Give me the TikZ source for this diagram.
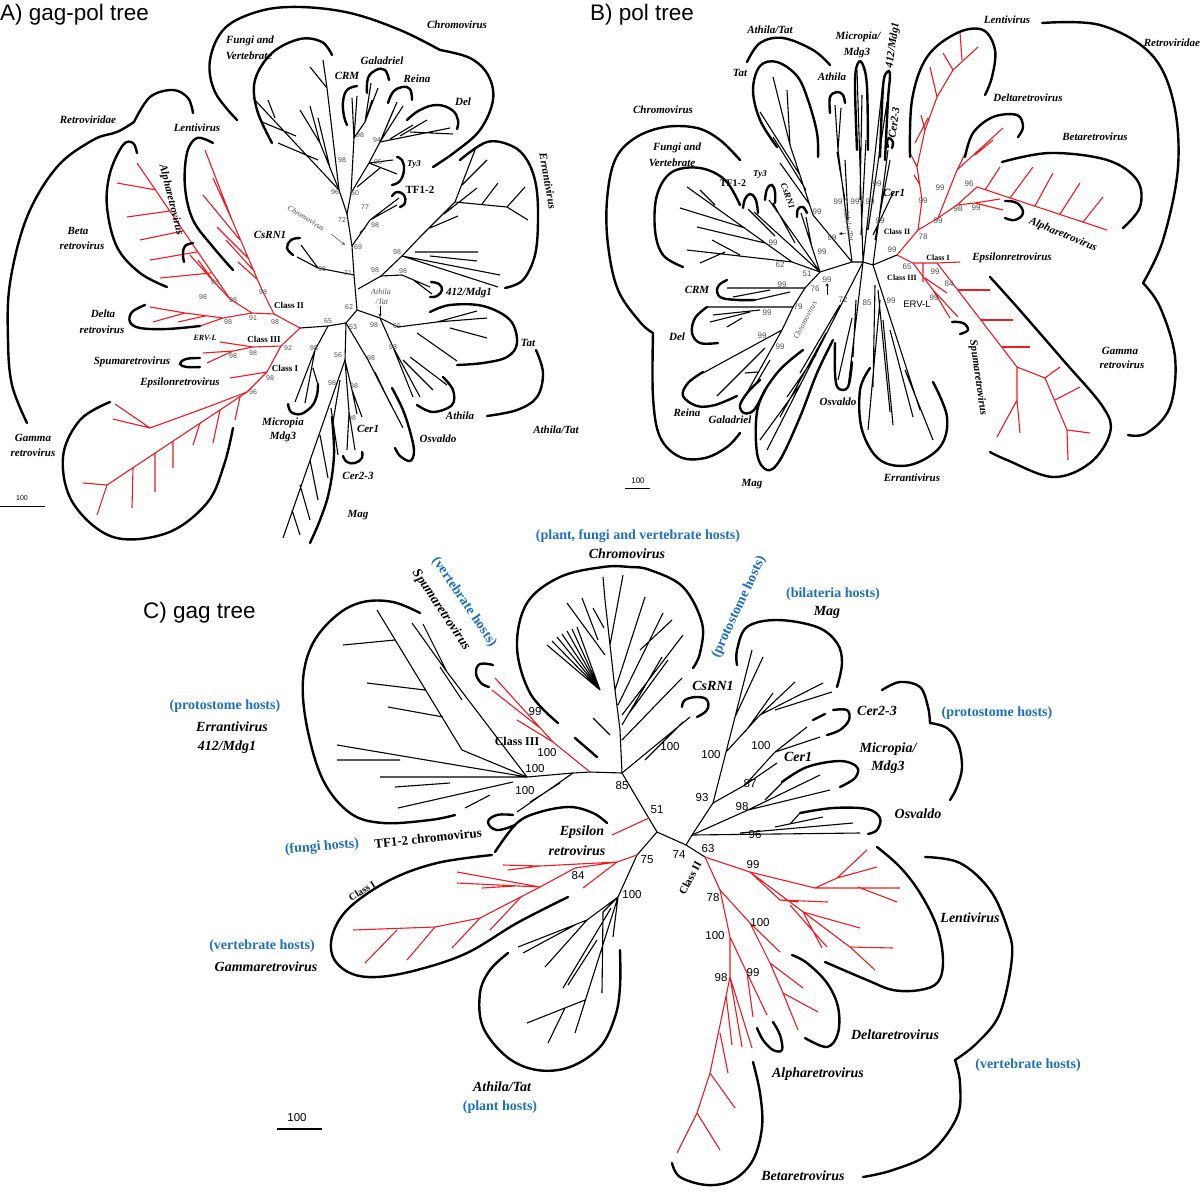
\documentclass[tikz,border=0pt]{standalone}
\usepackage{fontspec}
\setmainfont{Liberation Serif}
\newfontfamily\arialf{Liberation Sans}
\definecolor{rr}{RGB}{236,28,36}
\definecolor{hb}{RGB}{30,112,190}
\definecolor{gt}{RGB}{80,80,80}
\tikzset{
  brk/.style={line width=1.1pt},
  brr/.style={line width=1.1pt, draw=rr},
  outl/.style={line width=2.4pt, line cap=round},
  labA/.style={inner sep=0pt, font=\fontsize{11}{12}\selectfont\bfseries\itshape},
  labS/.style={inner sep=0pt, font=\fontsize{9}{10}\selectfont\bfseries\itshape},
  labC/.style={inner sep=0pt, font=\fontsize{14}{15}\selectfont\bfseries\itshape},
  hostC/.style={inner sep=0pt, text=hb, font=\fontsize{14}{15}\selectfont\bfseries},
  bsA/.style={inner sep=0pt, text=gt, font=\arialf\fontsize{7}{8}\selectfont},
  bsB/.style={inner sep=0pt, text=gt, font=\arialf\fontsize{8}{9}\selectfont},
  bsC/.style={inner sep=0pt, font=\arialf\fontsize{11.5}{12}\selectfont},
  clsA/.style={inner sep=0pt, font=\fontsize{9}{10}\selectfont\bfseries},
  clsC/.style={inner sep=0pt, font=\fontsize{12}{13}\selectfont\bfseries},
  annot/.style={inner sep=0pt, text=gt, font=\fontsize{8}{9}\selectfont\itshape},
  title/.style={inner sep=0pt, anchor=west, font=\arialf\fontsize{22.5}{24}\selectfont},
}
\begin{document}
\begin{tikzpicture}[x=1pt,y=-1pt]
\useasboundingbox (0,0) rectangle (1200,1204);
\fill[white] (0,0) rectangle (1200,1204);

%================ PANEL A =================
\node[title] (tA) at (0,15) {A) gag-pol tree};
\coordinate (ared) at (300,328);
\coordinate (a65) at (328,326);
\coordinate (a53) at (346,323);
\coordinate (a62) at (357,310);
\coordinate (a71) at (354,275);
\coordinate (a69) at (352,246);
\coordinate (a72) at (347,214);
\coordinate (a60) at (351,193);
\coordinate (acrm) at (354,138);
\coordinate (a95) at (369,163);
\coordinate (a94) at (380,142);
\coordinate (af96) at (339,190);
\coordinate (acs) at (318,268);
\coordinate (ae1) at (381,276);
\coordinate (ae2) at (402,256);
\coordinate (a412) at (402,275);
\coordinate (aat) at (380,318);
\coordinate (atat) at (398,327);
\coordinate (aath) at (393,347);
\coordinate (aosv) at (368,360);
\coordinate (acer) at (345,360);
\coordinate (acer1) at (352,390);
\coordinate (acer2) at (349,412);
\coordinate (amic) at (315,350);

% black tree A
\draw[brk] (ared)--(a65)--(a53)--(a62)--(a71)--(a69)--(a72)--(a60)--(acrm)--(352,98);
\draw[brk] (acrm)--(357,96) (acrm)--(365,122)--(371,83) (365,122)--(378,88) (365,122)--(372,100);
\draw[brk] (a60)--(a95)--(a94)--(397,102) (a94)--(403,106) (a94)--(393,111);
\draw[brk] (a94)--(450,128) (410,132)--(453,134) (400,136)--(427,120) (390,139)--(413,125);
\draw[brk] (a95)--(393,160) (a95)--(397,174) (357,187)--(380,168);
\draw[brk] (a69)--(370,220)--(399,198) (370,220)--(397,205) (360,233)--(365,228);
\draw[brk] (a72)--(af96)--(327,88)--(323,60) (327,88)--(310,67);
\draw[brk] (af96)--(320,143)--(300,110) (320,143)--(310,106) (330,168)--(318,118);
\draw[brk] (af96)--(253,98) (296,136)--(262,122) (318,160)--(278,143) (275,118)--(268,100);
\draw[brk] (a71)--(acs)--(297,257) (acs)--(301,245);
\draw[brk] (358,289)--(ae1)--(ae2)--(420,237)--(455,202)--(475,150) (462,185)--(487,160) (455,202)--(507,207)--(525,187) (507,207)--(528,220) (482,204)--(498,183) (430,228)--(458,216) (444,214)--(477,188);
\draw[brk] (ae2)--(498,287) (ae2)--(500,275) (415,252)--(478,252) (430,256)--(477,261);
\draw[brk] (ae1)--(a412)--(430,287) (412,279)--(432,294);
\draw[brk] (a62)--(aat)--(atat)--(437,322)--(477,311) (437,322)--(487,318) (450,328)--(487,338) (417,333)--(457,361);
\draw[brk] (aat)--(aath)--(413,397) (aath)--(420,397) (403,360)--(433,390) (410,357)--(447,385);
\draw[brk] (a53)--(aosv)--(392,407) (aosv)--(403,428) (375,372)--(387,397);
\draw[brk] (a53)--(acer)--(acer1)--(362,417) (acer1)--(357,414) (acer)--(acer2)--(347,450) (acer2)--(355,450);
\draw[brk] (acer)--(283,538) (340,380)--(333,422) (331,408)--(338,455) (320,435)--(328,478) (310,460)--(318,500) (300,485)--(310,520) (292,510)--(300,535);
\draw[brk] (a65)--(amic)--(295,402) (amic)--(305,403) (313,368)--(318,385);

% red tree A
\coordinate (ac2) at (274,314);
\coordinate (alen) at (262,290);
\coordinate (a91) at (252,313);
\coordinate (aab) at (230,299);
\coordinate (aal) at (215,283);
\coordinate (adl) at (223,318);
\coordinate (a92) at (281,346);
\coordinate (a3n) at (253,347);
\coordinate (asp) at (233,351);
\coordinate (ac1) at (267,372);
\coordinate (a96) at (247,392);
\draw[brr] (ared)--(ac2)--(a91)--(adl)--(185,313)--(150,307) (185,313)--(153,322) (205,316)--(178,322) (adl)--(200,326);
\draw[brr] (ac2)--(alen)--(232,220)--(205,150) (232,220)--(213,178) (240,240)--(203,195) (248,258)--(217,227) (255,272)--(226,240) (258,280)--(238,262);
\draw[brr] (a91)--(aab)--(137,163) (211,273)--(160,278) (197,252)--(150,260) (183,231)--(140,240) (170,211)--(127,217) (156,190)--(117,183);
\draw[brr] (aab)--(aal)--(190,255) (aal)--(198,260);
\draw[brr] (ared)--(a92)--(a3n)--(220,342) (a3n)--(asp)--(203,353) (asp)--(207,363);
\draw[brr] (a92)--(ac1)--(230,378) (ac1)--(a96)--(107,485)--(83,483) (107,485)--(97,515);
\draw[brr] (a96)--(205,408)--(150,428)--(115,404) (150,428)--(113,419);
\draw[brr] (240,397)--(235,420) (220,410)--(213,443) (200,423)--(193,445) (173,441)--(173,468) (155,453)--(155,492) (133,468)--(132,508);

% outlines A
\draw[outl] plot[smooth,tension=0.6] coordinates {(272,143) (257,110) (255,80) (272,53) (300,39) (322,42) (332,55)};
\draw[outl] plot[smooth,tension=0.6] coordinates {(237,120) (215,92) (210,60) (225,28) (260,11) (300,7) (350,13) (400,30) (440,50)};
\draw[outl] plot[smooth,tension=0.6] coordinates {(440,50) (470,58) (488,75) (493,100) (480,130) (455,152) (433,167)};
\draw[outl] plot[smooth,tension=0.7] coordinates {(357,86) (347,90) (343,102) (344,116) (347,125)};
\draw[outl] plot[smooth,tension=0.7] coordinates {(367,93) (368,78) (376,70) (385,70) (389,80)};
\draw[outl] plot[smooth,tension=0.7] coordinates {(388,103) (393,92) (402,87) (410,89) (412,100)};
\draw[outl] plot[smooth,tension=0.7] coordinates {(407,120) (420,110) (437,105) (452,110) (458,120) (457,129)};
\draw[outl] plot[smooth,tension=0.7] coordinates {(397,157) (402,160) (404,170) (400,181) (392,185)};
\draw[outl] plot[smooth,tension=0.7] coordinates {(392,196) (397,192) (404,195) (405,203) (400,207)};
\draw[outl] plot[smooth,tension=0.6] coordinates {(460,160) (487,142) (512,146) (527,160) (536,185) (538,220) (535,255) (523,280) (505,288)};
\draw[outl] plot[smooth,tension=0.7] coordinates {(431,282) (439,284) (442,290) (437,296) (430,297)};
\draw[outl] plot[smooth,tension=0.7] coordinates {(300,238) (291,240) (287,248) (293,255)};
\draw[outl] plot[smooth,tension=0.6] coordinates {(430,312) (450,305) (483,306) (510,320) (517,343) (507,357) (483,363) (457,365)};
\draw[outl] plot[smooth,tension=0.6] coordinates {(536,350) (543,373) (537,397) (517,410) (487,416)};
\draw[outl] plot[smooth,tension=0.6] coordinates {(443,377) (453,390) (452,405) (433,412) (417,405)};
\draw[outl] plot[smooth,tension=0.6] coordinates {(392,388) (403,410) (411,435) (414,452) (410,461) (400,456) (395,448)};
\draw[outl] plot[smooth,tension=0.7] coordinates {(343,456) (347,462) (355,463) (362,458) (362,452)};
\draw[outl] plot[smooth,tension=0.6] coordinates {(332,417) (334,455) (329,492) (320,520) (310,543)};
\draw[outl] plot[smooth,tension=0.6] coordinates {(288,404) (291,412) (301,414) (312,406) (317,395) (318,384)};
\draw[outl] plot[smooth,tension=0.6] coordinates {(193,113) (188,98) (173,90) (150,97) (134,122)};
\draw[outl] plot[smooth,tension=0.6] coordinates {(134,122) (117,132) (93,140) (57,167) (27,217) (10,283) (8,340) (12,385) (27,423)};
\draw[outl] plot[smooth,tension=0.6] coordinates {(213,143) (197,138) (187,153) (185,187) (193,220) (213,247) (233,270)};
\draw[outl] plot[smooth,tension=0.6] coordinates {(137,153) (133,143) (123,145) (110,173) (107,207) (117,247) (140,273) (167,287)};
\draw[outl] plot[smooth,tension=0.7] coordinates {(193,243) (185,246) (183,254) (184,262)};
\draw[outl] plot[smooth,tension=0.6] coordinates {(145,305) (132,312) (130,322) (140,328) (167,329) (200,326)};
\draw[outl] plot[smooth,tension=0.7] coordinates {(200,358) (186,359) (180,364) (187,367) (200,367)};
\draw[outl] plot[smooth,tension=0.6] coordinates {(110,402) (80,420) (63,457) (73,503) (113,537) (167,533) (207,503) (224,465) (233,428)};

% labels A
\node[labA] (aFV1) at (250,41) {Fungi and};
\node[labA] (aFV2) at (249,56) {Vertebrate};
\node[labA] (aChr) at (457,25) {Chromovirus};
\node[labA] (aGal) at (382,61) {Galadriel};
\node[labA] (aCRM) at (347,76) {CRM};
\node[labA] (aRei) at (417,79) {Reina};
\node[labA] (aDel) at (463,102) {Del};
\node[labS] (aTy3) at (414,164) {Ty3};
\node[clsA, font=\fontsize{11}{12}\selectfont\bfseries] (aTF) at (420,190) {TF1-2};
\node[labA, rotate=-80] (aErr) at (548,181) {Errantivirus};
\node[labA] (a412l) at (469,293) {412/Mdg1};
\node[labA] (aCs) at (270,235) {CsRN1};
\node[annot, rotate=-32] (aChA) at (306,218) {Chromovirus};
\draw[-stealth, line width=0.5pt, gt] (331,234)--(345,245);
\node[annot] (aAT1) at (381,292) {Athila};
\node[annot] (aAT2) at (382,302) {/Tat};
\draw[-stealth, line width=0.5pt] (380,306)--(380,317);
\node[labA] (aTat) at (528,343) {Tat};
\node[labA] (aAth) at (460,416) {Athila};
\node[labA] (aAT) at (556,430) {Athila/Tat};
\node[labA] (aOsv) at (438,439) {Osvaldo};
\node[labA] (aCer1) at (368,429) {Cer1};
\node[labA] (aCer2) at (358,476) {Cer2-3};
\node[labA] (aMag) at (358,515) {Mag};
\node[labA] (aMic1) at (283,423) {Micropia};
\node[labA] (aMic2) at (283,437) {Mdg3};
\node[labA] (aRet) at (88,120) {Retroviridae};
\node[labA] (aLen) at (197,128) {Lentivirus};
\node[labA, rotate=-76] (aAlp) at (171,200) {Alpharetrovirus};
\node[labA] (aBe1) at (78,231) {Beta};
\node[labA] (aBe2) at (82,246) {retrovirus};
\node[labA] (aDe1) at (103,314) {Delta};
\node[labA] (aDe2) at (102,330) {retrovirus};
\node[labS, font=\fontsize{8}{9}\selectfont\itshape\bfseries] (aERV) at (205,338) {ERV-L};
\node[clsA] (aC2) at (289,305) {Class II};
\node[clsA] (aC3) at (264,339) {Class III};
\node[clsA] (aC1) at (285,368) {Class I};
\node[labA] (aSpu) at (132,362) {Spumaretrovirus};
\node[labA] (aEps) at (180,383) {Epsilonretrovirus};
\node[labA] (aGa1) at (33,438) {Gamma};
\node[labA] (aGa2) at (33,453) {retrovirus};
\draw[line width=1pt] (0,506)--(45,506);
\node[bsA, text=black] (aSc) at (22,498) {100};
% bootstrap A
\node[bsA] at (215,282) {98}; \node[bsA] at (203,297) {98}; \node[bsA] at (233,300) {98};
\node[bsA] at (263,292) {98}; \node[bsA] at (253,318) {91}; \node[bsA] at (228,322) {98};
\node[bsA] at (275,322) {98}; \node[bsA] at (328,321) {65}; \node[bsA] at (288,348) {92};
\node[bsA] at (253,353) {98}; \node[bsA] at (233,356) {98}; \node[bsA] at (270,378) {98};
\node[bsA] at (253,392) {96}; \node[bsA] at (322,269) {98}; \node[bsA] at (348,273) {71};
\node[bsA] at (375,270) {98}; \node[bsA] at (403,271) {98}; \node[bsA] at (349,307) {62};
\node[bsA] at (353,327) {53}; \node[bsA] at (374,325) {98}; \node[bsA] at (397,326) {65};
\node[bsA] at (393,347) {98}; \node[bsA] at (314,348) {98}; \node[bsA] at (338,355) {56};
\node[bsA] at (371,358) {98}; \node[bsA] at (332,383) {98}; \node[bsA] at (354,386) {98};
\node[bsA] at (352,418) {98}; \node[bsA] at (360,135) {98}; \node[bsA] at (377,140) {94};
\node[bsA] at (342,160) {98}; \node[bsA] at (378,162) {95}; \node[bsA] at (335,192) {96};
\node[bsA] at (355,193) {60}; \node[bsA] at (365,207) {77}; \node[bsA] at (342,220) {72};
\node[bsA] at (375,225) {98}; \node[bsA] at (358,247) {69}; \node[bsA] at (397,252) {98};

%================ PANEL B =================
\node[title] (tB) at (590,15) {B) pol tree};
\coordinate (b51) at (820,272);
\coordinate (b62) at (792,262);
\coordinate (bc1) at (852,262);
\coordinate (bc2) at (863,262);
\coordinate (bc3) at (873,265);
\coordinate (bred) at (897,255);
\coordinate (b76) at (805,288);
\coordinate (b79) at (793,307);
\coordinate (bre) at (782,330);
\coordinate (bat) at (813,215);
% black B
\draw[brk] (b51)--(bc1)--(bc2)--(bc3)--(bred);
\draw[brk] (b51)--(b62)--(687,187) (745,228)--(680,208) (765,243)--(697,227) (b62)--(687,250) (725,252)--(700,263) (740,255)--(712,240) (715,205)--(700,190);
\draw[brk] (b51)--(754,212) (775,236)--(748,209) (b51)--(769,200) (795,243)--(773,203) (b51)--(801,213) (812,248)--(806,217);
\draw[brk] (bc1)--(bat)--(790,145)--(773,77) (790,145)--(787,90) (800,175)--(760,112) (806,190)--(773,137) (810,205)--(780,163);
\draw[brk] (bc1)--(838,150)--(835,105) (838,150)--(841,108) (845,200)--(837,152) (848,220)--(845,160);
\draw[brk] (bc2)--(857,70) (860,200)--(862,95) (861,235)--(866,140) (bc2)--(883,82) (868,230)--(887,102);
\draw[brk] (bc3)--(888,150) (875,240)--(890,160) (873,235)--(893,193);
\draw[brk] (b51)--(b76)--(b79)--(bre)--(740,405) (bre)--(703,373) (765,348)--(717,396) (770,360)--(757,382) (758,372)--(745,373);
\draw[brk] (b76)--(727,288) (770,290)--(733,297) (790,292)--(755,300);
\draw[brk] (b79)--(707,307) (760,310)--(713,315) (750,312)--(710,322) (742,318)--(727,327);
\draw[brk] (bc2)--(767,450) (840,305)--(800,373) (826,333)--(780,417) (816,355)--(787,397) (800,385)--(760,440);
\draw[brk] (bc2)--(848,388) (852,318)--(838,380) (856,300)--(853,357);
\draw[brk] (bc3)--(920,410) (878,290)--(890,412) (875,285)--(873,387) (890,330)--(913,417) (905,370)--(933,440) (883,320)--(893,425) (880,300)--(868,430);
% red B
\coordinate (b78) at (918,230);
\coordinate (bL) at (922,200);
\coordinate (bD) at (938,218);
\coordinate (bA) at (957,205);
\coordinate (bB) at (977,187);
\coordinate (b65) at (913,263);
\coordinate (bE) at (937,263);
\draw[brr] (bred)--(b78)--(bL)--(917,167)--(925,130)--(937,97)--(953,70)--(978,47) (953,70)--(943,53) (962,60)--(960,33) (937,97)--(930,67) (925,130)--(921,115) (917,167)--(910,153) (920,185)--(914,175) (928,118)--(915,143);
\draw[brr] (b78)--(bD)--(bA)--(bB)--(1107,230) (985,190)--(1000,167) (1010,198)--(1033,167) (1035,206)--(1053,173) (1060,214)--(1080,183) (1083,222)--(1103,197);
\draw[brr] (bD)--(957,170)--(1003,128) (957,170)--(967,150) (975,155)--(993,140);
\draw[brr] (bA)--(975,203)--(1000,199) (975,203)--(1003,210);
\draw[brr] (bred)--(b65)--(bE)--(960,262) (923,263)--(923,282);
\draw[brr] (b65)--(933,290)--(958,317) (933,290)--(950,318) (925,278)--(947,293);
\draw[brr] (bE)--(1017,367)--(1045,378)--(1067,430)--(1068,460) (1045,378)--(1060,367) (1055,400)--(1080,387) (1067,430)--(1090,433) (1017,367)--(1017,400)--(997,437) (1017,400)--(1020,433);
\draw[brr] (958,290)--(990,290) (981,320)--(1013,320) (1002,347)--(1030,347);
% outlines B
\draw[outl] plot[smooth,tension=0.6] coordinates {(910,157) (912,100) (927,57) (957,33) (983,30) (995,50) (992,77) (985,95)};
\draw[outl] plot[smooth,tension=0.6] coordinates {(965,157) (973,133) (993,117) (1017,115) (1023,127) (1018,137)};
\draw[outl] plot[smooth,tension=0.6] coordinates {(1002,162) (1050,153) (1107,160) (1137,180) (1140,207) (1123,228)};
\draw[outl] plot[smooth,tension=0.7] coordinates {(1005,201) (1017,203) (1023,213) (1015,220) (1005,218)};
\draw[outl] plot[smooth,tension=0.6] coordinates {(1042,23) (1100,25) (1150,53) (1173,100) (1178,167) (1163,240) (1143,283)};
\draw[outl] plot[smooth,tension=0.6] coordinates {(1143,283) (1160,307) (1175,357) (1170,407) (1147,433) (1128,435)};
\draw[outl] plot[smooth,tension=0.6] coordinates {(990,277) (1017,307) (1063,360) (1103,407) (1110,433) (1090,463) (1053,477) (1007,460) (990,452)};
\draw[outl] plot[smooth,tension=0.7] coordinates {(952,322) (963,323) (968,330) (960,334)};
\draw[outl] plot[smooth,tension=0.6] coordinates {(870,368) (860,390) (862,430) (880,460) (910,465) (940,447) (947,417) (933,382)};
\draw[outl] plot[smooth,tension=0.6] coordinates {(835,343) (835,373) (838,388) (848,387) (852,362)};
\draw[outl] plot[smooth,tension=0.6] coordinates {(803,350) (777,373) (758,407) (757,453) (767,470) (780,460) (800,417) (817,373) (833,340)};
\draw[outl] plot[smooth,tension=0.6] coordinates {(760,380) (748,392) (740,405) (744,413) (754,410) (765,390)};
\draw[outl] plot[smooth,tension=0.6] coordinates {(703,372) (688,383) (683,396) (697,406) (715,405) (737,396)};
\draw[outl] plot[smooth,tension=0.6] coordinates {(707,307) (695,318) (692,333) (700,343) (718,343)};
\draw[outl] plot[smooth,tension=0.6] coordinates {(727,280) (719,285) (717,292) (722,298) (738,300) (755,300)};
\draw[outl] plot[smooth,tension=0.6] coordinates {(740,160) (720,140) (697,128) (665,127) (635,138) (615,160) (607,200) (608,245) (618,290) (640,322) (653,333)};
\draw[outl] plot[smooth,tension=0.6] coordinates {(653,333) (653,397) (660,437) (680,457) (705,458) (727,447) (740,433)};
\draw[outl] plot[smooth,tension=0.6] coordinates {(740,205) (725,180) (700,168) (672,172) (657,195) (655,230) (663,255) (683,267)};
\draw[outl] plot[smooth,tension=0.7] coordinates {(743,208) (745,199) (750,194) (755,198) (757,205) (758,213)};
\draw[outl] plot[smooth,tension=0.7] coordinates {(765,200) (767,189) (772,185) (775,192) (775,203)};
\draw[outl] plot[smooth,tension=0.7] coordinates {(797,217) (798,209) (803,207) (807,213)};
\draw[outl] plot[smooth,tension=0.6] coordinates {(777,147) (760,120) (753,90) (760,66) (777,62) (797,76) (808,100) (817,133) (818,157)};
\draw[outl] plot[smooth,tension=0.6] coordinates {(830,113) (830,97) (837,92) (843,95) (845,103)};
\draw[outl] plot[smooth,tension=0.6] coordinates {(747,62) (760,43) (783,38) (813,50) (830,65)};
\draw[outl] plot[smooth,tension=0.6] coordinates {(857,150) (855,83) (858,63) (863,65) (867,87) (868,150)};
\draw[outl] plot[smooth,tension=0.6] coordinates {(880,157) (883,87) (887,72) (890,75) (888,100) (885,160)};
\draw[outl] plot[smooth,tension=0.7] coordinates {(888,147) (887,142) (889,138) (893,142) (892,148)};
% labels B
\node[labA] (bAT) at (770,30) {Athila/Tat};
\node[labA] (bMi1) at (858,37) {Micropia/};
\node[labA] (bMi2) at (857,53) {Mdg3};
\node[labA, rotate=82] (b412) at (893,45) {412/Mdg1};
\node[labA] (bTat) at (740,73) {Tat};
\node[labA] (bAth) at (832,77) {Athila};
\node[labA, rotate=82] (bCer2) at (894,123) {Cer2-3};
\node[labA] (bChr) at (663,110) {Chromovirus};
\node[labA] (bFV1) at (677,148) {Fungi and};
\node[labA] (bFV2) at (672,163) {Vertebrate};
\node[clsA, font=\fontsize{10}{11}\selectfont\bfseries] (bTF) at (733,183) {TF1-2};
\node[labS] (bTy3) at (760,174) {Ty3};
\node[labS, rotate=-70] (bCs) at (788,196) {CsRN1};
\node[labA] (bCer1) at (894,193) {Cer1};
\node[annot, rotate=-80] (bATa) at (849,226) {Athila/Tat};
\draw[-stealth, line width=0.5pt] (846,233)--(839,234);
\node[labA] (bCRM) at (697,290) {CRM};
\node[labA] (bDel) at (677,337) {Del};
\node[labA] (bRei) at (687,413) {Reina};
\node[labA] (bGal) at (730,420) {Galadriel};
\node[labA] (bMag) at (752,484) {Mag};
\node[labA] (bOsv) at (838,402) {Osvaldo};
\node[labA] (bErr) at (912,478) {Errantivirus};
\node[annot, rotate=62] (bChA) at (805,320) {Chromovirus};
\draw[-stealth, line width=0.5pt] (827,295)--(827,283);
\node[labA] (bLen) at (1007,20) {Lentivirus};
\node[labA] (bRet) at (1172,43) {Retroviridae};
\node[labA] (bDel2) at (1028,98) {Deltaretrovirus};
\node[labA] (bBet) at (1095,137) {Betaretrovirus};
\node[labA, rotate=-22] (bAlp) at (1063,235) {Alpharetrovirus};
\node[labA] (bEps) at (1012,258) {Epsilonretrovirus};
\node[labA, rotate=-82] (bSpu) at (978,378) {Spumaretrovirus};
\node[labA] (bGa1) at (1120,351) {Gamma};
\node[labA] (bGa2) at (1122,365) {retrovirus};
\node[clsA, font=\fontsize{8}{9}\selectfont\bfseries] (bC2) at (897,232) {Class II};
\node[clsA, font=\fontsize{8}{9}\selectfont\bfseries] (bC1) at (938,258) {Class I};
\node[clsA, font=\fontsize{8}{9}\selectfont\bfseries] (bC3) at (902,278) {Class III};
\node[inner sep=0pt, font=\arialf\fontsize{9.5}{10}\selectfont] (bERV) at (917,304) {ERV-L};
\draw[line width=1pt] (625,488)--(650,488);
\node[bsB, text=black] (bSc) at (638,481) {100};
% bootstrap B
\node[bsB] at (877,184) {99}; \node[bsB] at (838,202) {99}; \node[bsB] at (855,202) {99};
\node[bsB] at (870,202) {99}; \node[bsB] at (817,212) {99}; \node[bsB] at (773,243) {99};
\node[bsB] at (832,238) {99}; \node[bsB] at (880,221) {99}; \node[bsB] at (822,252) {99};
\node[bsB] at (780,265) {62}; \node[bsB] at (807,274) {51}; \node[bsB] at (827,280) {99};
\node[bsB] at (782,285) {99}; \node[bsB] at (815,289) {76}; \node[bsB] at (843,300) {72};
\node[bsB] at (867,303) {85}; \node[bsB] at (798,307) {79}; \node[bsB] at (767,313) {99};
\node[bsB] at (762,336) {99}; \node[bsB] at (780,347) {99};
\node[bsB] at (940,188) {99}; \node[bsB] at (969,184) {96}; \node[bsB] at (923,201) {99};
\node[bsB] at (958,209) {98}; \node[bsB] at (976,208) {99}; \node[bsB] at (938,221) {99};
\node[bsB] at (923,237) {78}; \node[bsB] at (892,250) {99}; \node[bsB] at (907,267) {65};
\node[bsB] at (935,272) {99}; \node[bsB] at (949,284) {84}; \node[bsB] at (891,301) {99};
\node[bsB] at (934,298) {99};

%================ PANEL C =================
\node[title] (tC) at (143,613) {C) gag tree};
\coordinate (c85) at (622,773);
\coordinate (ccn) at (657,832);
\coordinate (c74) at (686,845);
\coordinate (c63) at (705,857);
\coordinate (c93) at (713,803);
\coordinate (c75) at (637,855);
\coordinate (c100a) at (618,897);
\coordinate (ce0) at (590,772);
\coordinate (ce1) at (573,773);
\coordinate (ce100) at (527,777);
% black C
\draw[brk] (ce100)--(ce1)--(ce0)--(c85)--(ccn)--(c74)--(c63) (ccn)--(c75)--(c100a);
\draw[brk] (c85)--(620,730)--(615,690)--(610,645)--(605,600)--(603,577) (610,645)--(623,575) (615,690)--(645,597) (618,705)--(663,613) (640,650)--(672,620) (622,715)--(683,635) (622,725)--(662,657) (630,712)--(668,660) (622,740)--(682,678);
\draw[brk] (605,655)--(567,603) (598,640)--(582,598) (604,628)--(593,608) (600,690)--(547,645) (600,690)--(552,641) (600,690)--(557,637) (600,690)--(562,634) (600,690)--(567,631) (600,690)--(572,629) (600,690)--(577,627);
\draw[brk] (610,735)--(593,718) (c85)--(690,717) (645,760)--(683,722);
\draw[outl] (575,738)--(597,757);
\draw[brk] (c74)--(692,835)--(c93)--(735,717)--(752,650) (735,717)--(763,657) (726,752)--(760,715)--(795,682) (745,732)--(773,693) (760,715)--(823,683) (775,710)--(832,692);
\draw[brk] (c93)--(745,785)--(775,752)--(807,727) (775,752)--(820,737) (745,785)--(777,763);
\draw[brk] (692,835)--(748,810)--(820,775) (748,810)--(830,790) (765,800)--(782,783);
\draw[brk] (692,835)--(860,833) (740,833)--(853,823) (775,827)--(823,817) (790,824)--(800,813);
\draw[brk] (ce100)--(462,750)--(377,610) (395,640)--(343,645) (425,690)--(367,683) (443,717)--(388,707);
\draw[brk] (ce100)--(447,672)--(412,623) (447,672)--(423,624) (462,700)--(440,667);
\draw[brk] (ce100)--(337,745) (400,760)--(337,760) (ce100)--(380,777) (450,783)--(395,787) (513,782)--(398,808) (490,795)--(465,808);
\draw[brk] (ce1)--(517,812) (560,783)--(530,802);
\draw[brk] (c100a)--(613,937) (c100a)--(603,912)--(602,993) (c100a)--(575,1033) (585,1000)--(527,1023) (565,1008)--(548,1043) (611,908)--(563,988) (597,940)--(568,985) (c100a)--(587,920)--(518,947) (575,925)--(523,953) (587,920)--(545,967);
% red C
\coordinate (cg1) at (617,862);
\coordinate (cg84) at (575,868);
\coordinate (cg2) at (540,887);
\coordinate (cg3) at (480,918);
\coordinate (cg4) at (435,927);
\draw[brr] (649,818)--(612,835);
\draw[brr] (ce0)--(553,742)--(495,678) (540,728)--(492,690) (553,742)--(517,720);
\draw[brr] (c75)--(cg1)--(cg84)--(cg2)--(cg3)--(cg4)--(353,930) (cg1)--(583,888) (cg1)--(540,866)--(503,865) (540,866)--(508,870);
\draw[brr] (cg2)--(457,872) (cg2)--(457,883) (515,886)--(482,888) (521,897)--(490,930) (cg3)--(452,948) (cg4)--(407,960) (397,930)--(365,963);
\coordinate (cl99) at (750,872);
\coordinate (cl2) at (815,888);
\coordinate (c78) at (720,890);
\coordinate (cd100) at (750,923);
\coordinate (c100b) at (730,937);
\coordinate (c99b) at (747,973);
\coordinate (c98) at (730,977);
\coordinate (cab) at (710,1073);
\draw[brr] (c63)--(cl99)--(cl2)--(900,888) (cl2)--(837,878)--(867,850) (837,878)--(877,867) (858,887)--(897,902);
\draw[brr] (cl99)--(780,900)--(798,902) (780,900)--(828,902) (cl99)--(850,947)--(893,948) (850,947)--(875,970) (803,912)--(822,948) (803,912)--(860,928) (790,905)--(827,947);
\draw[brr] (c63)--(c78)--(cd100)--(780,952) (cd100)--(770,963)--(803,988) (770,963)--(783,993)--(818,1012) (783,993)--(798,1030);
\draw[brr] (c78)--(c100b)--(c99b)--(767,1015) (c99b)--(753,1017) (c100b)--(c98)--(cab) (c98)--(752,1048) (c98)--(742,1047) (726,995)--(732,1045) (720,1033)--(728,1073) (cab)--(735,1108) (cab)--(697,1113)--(677,1153) (697,1113)--(720,1150);
% outlines C
\draw[outl] plot[smooth,tension=0.6] coordinates {(420,613) (393,602) (363,602) (337,615) (313,643) (303,680) (307,727) (323,780) (350,813) (383,823) (430,820) (455,815)};
\draw[outl] plot[smooth,tension=0.7] coordinates {(493,665) (480,664) (476,673) (481,683) (489,687)};
\draw[outl] plot[smooth,tension=0.7] coordinates {(513,815) (497,815) (488,822) (497,830) (515,825)};
\draw[outl] plot[smooth,tension=0.6] coordinates {(558,723) (530,693) (517,647) (527,603) (560,577) (603,567) (630,567) (650,570) (683,587) (702,623) (700,653) (693,668)};
\draw[outl] plot[smooth,tension=0.7] coordinates {(697,717) (707,710) (707,700) (697,697) (685,700) (682,707)};
\draw[outl] plot[smooth,tension=0.6] coordinates {(737,665) (737,650) (747,627) (777,620) (817,627) (837,643) (842,663) (837,687)};
\draw[outl] plot[smooth,tension=0.6] coordinates {(833,710) (847,710) (849,720) (840,730) (827,735)};
\draw[outl] (813,720)--(825,714);
\draw[outl] plot[smooth,tension=0.6] coordinates {(782,782) (807,767) (840,761) (857,767) (855,778) (840,787)};
\draw[outl] plot[smooth,tension=0.6] coordinates {(800,813) (833,808) (867,809) (880,818) (877,830) (868,834)};
\draw[outl] plot[smooth,tension=0.6] coordinates {(882,690) (900,682) (920,687) (928,707) (930,723)};
\draw[outl] plot[smooth,tension=0.6] coordinates {(930,723) (947,728) (958,743) (962,767) (957,787) (950,800)};
\draw[outl] plot[smooth,tension=0.6] coordinates {(495,852) (517,823) (540,812) (570,807) (593,813) (607,823)};
\draw[outl] plot[smooth,tension=0.6] coordinates {(492,855) (437,863) (390,880) (350,907) (333,933) (333,957) (350,973) (377,977) (417,970) (467,953) (517,923) (568,897)};
\draw[outl] plot[smooth,tension=0.6] coordinates {(508,953) (490,970) (480,993) (483,1027) (507,1057) (537,1070) (570,1067) (600,1047) (615,1017) (620,987) (620,950)};
\draw[outl] plot[smooth,tension=0.6] coordinates {(877,847) (900,867) (920,893) (937,927) (943,960) (938,982) (920,990) (893,990) (867,980) (825,962)};
\draw[outl] plot[smooth,tension=0.6] coordinates {(792,955) (807,963) (827,983) (838,1007) (838,1033) (827,1047) (805,1038)};
\draw[outl] plot[smooth,tension=0.6] coordinates {(757,1028) (763,1040) (773,1050) (782,1050) (780,1035) (773,1022)};
\draw[outl] plot[smooth,tension=0.6] coordinates {(753,1062) (760,1093) (762,1127) (753,1160) (733,1180) (707,1185) (680,1177) (672,1163)};
\draw[outl] plot[smooth,tension=0.6] coordinates {(925,857) (960,863) (990,890) (1007,927) (1012,957) (1000,1013) (977,1043) (955,1060)};
\draw[outl] plot[smooth,tension=0.6] coordinates {(955,1060) (960,1083) (957,1117) (930,1153) (893,1170) (863,1177)};
% labels C
\node[hostC] (cH1) at (638,536) {(plant, fungi and vertebrate hosts)};
\node[labC] (cChr) at (627,554) {Chromovirus};
\node[hostC, rotate=-56] (cH2) at (464,602) {(vertebrate hosts)};
\node[labC, rotate=-56, font=\fontsize{13.5}{14}\selectfont\bfseries\itshape] (cSpu) at (441,610) {Spumaretrovirus};
\node[hostC, rotate=65] (cH3) at (739,607) {(protostome hosts)};
\node[hostC] (cH4) at (833,594) {(bilateria hosts)};
\node[labC] (cMag) at (827,612) {Mag};
\node[labC] (cCs) at (713,686) {CsRN1};
\node[labC] (cCer2) at (877,711) {Cer2-3};
\node[hostC] (cH5) at (997,713) {(protostome hosts)};
\node[labC] (cMi1) at (888,749) {Micropia/};
\node[labC] (cMi2) at (888,767) {Mdg3};
\node[labC] (cCer1) at (798,757) {Cer1};
\node[labC] (cOsv) at (918,814) {Osvaldo};
\node[hostC] (cH6) at (225,706) {(protostome hosts)};
\node[labC] (cErr) at (232,727) {Errantivirus};
\node[labC] (cMdg) at (227,747) {412/Mdg1};
\node[clsC] (cC3) at (517,741) {Class III};
\node[hostC, rotate=5] (cH7) at (322,847) {(fungi hosts)};
\node[clsC, font=\fontsize{13}{14}\selectfont\bfseries, rotate=6] (cTF) at (428,838) {TF1-2 chromovirus};
\node[labC] (cEp1) at (582,832) {Epsilon};
\node[labC] (cEp2) at (577,851) {retrovirus};
\node[clsC, font=\fontsize{10}{11}\selectfont\bfseries, rotate=32] (cC1) at (362,891) {Class I};
\node[hostC] (cH8) at (262,946) {(vertebrate hosts)};
\node[labC] (cGam) at (266,967) {Gammaretrovirus};
\node[labC] (cAth) at (502,1087) {Athila/Tat};
\node[hostC] (cH9) at (500,1107) {(plant hosts)};
\draw[line width=1.2pt] (277,1129)--(322,1129);
\node[bsC] (cSc) at (297,1118) {100};
\node[labC] (cLen) at (970,918) {Lentivirus};
\node[hostC] (cH10) at (1028,1065) {(vertebrate hosts)};
\node[labC] (cDel) at (895,1035) {Deltaretrovirus};
\node[labC] (cAlp) at (818,1074) {Alpharetrovirus};
\node[labC] (cBet) at (803,1176) {Betaretrovirus};
\node[clsC, font=\fontsize{11}{12}\selectfont\bfseries, rotate=62] (cC2) at (690,878) {Class II};
% bootstrap C
\node[bsC] at (535,712) {99}; \node[bsC] at (547,753) {100}; \node[bsC] at (535,769) {100};
\node[bsC] at (525,791) {100}; \node[bsC] at (622,786) {85}; \node[bsC] at (657,810) {51};
\node[bsC] at (670,747) {100}; \node[bsC] at (711,755) {100}; \node[bsC] at (702,798) {93};
\node[bsC] at (761,746) {100}; \node[bsC] at (750,784) {87}; \node[bsC] at (742,807) {98};
\node[bsC] at (755,835) {96}; \node[bsC] at (708,849) {63}; \node[bsC] at (679,855) {74};
\node[bsC] at (647,860) {75}; \node[bsC] at (632,895) {100}; \node[bsC] at (578,876) {84};
\node[bsC] at (753,865) {99}; \node[bsC] at (713,898) {78}; \node[bsC] at (760,923) {100};
\node[bsC] at (715,936) {100}; \node[bsC] at (753,973) {99}; \node[bsC] at (721,978) {98};
\end{tikzpicture}
\end{document}
